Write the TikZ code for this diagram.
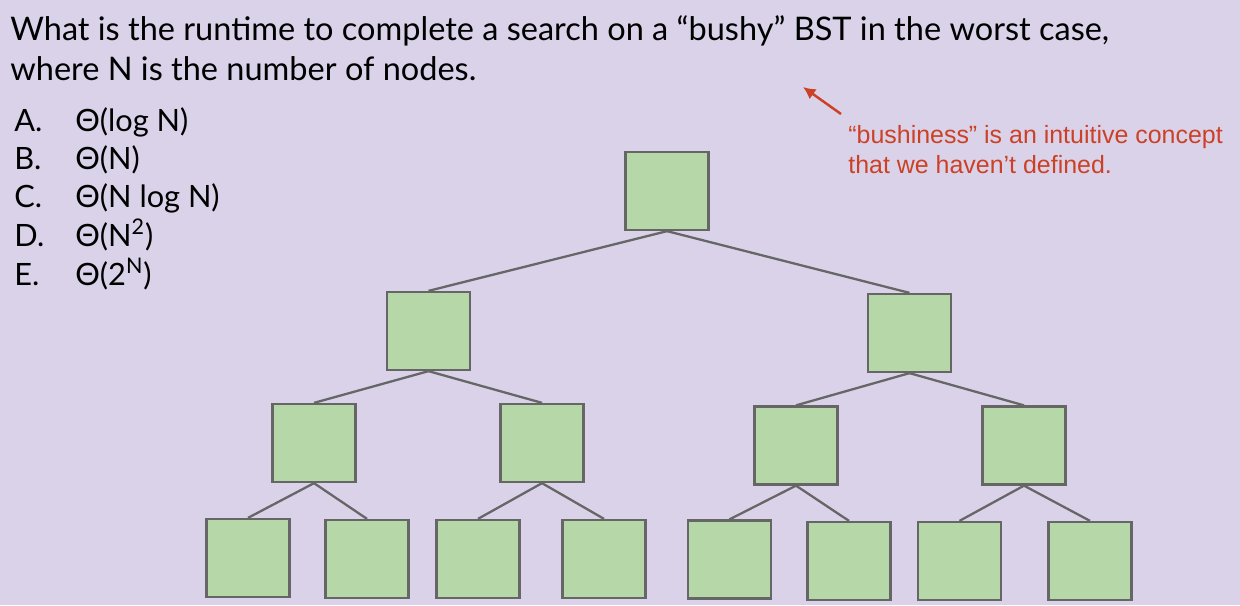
\documentclass[tikz,border=0pt]{standalone}
\usepackage{fontspec}
\setmainfont{Lato}
\newfontfamily\notefont{Liberation Sans}
\usetikzlibrary{arrows.meta}
\definecolor{bgpurple}{HTML}{D9D2E9}
\definecolor{leafgreen}{HTML}{B6D7A8}
\definecolor{edgegray}{HTML}{666666}
\definecolor{notered}{HTML}{CC4125}

\begin{document}
\begin{tikzpicture}[x=.02cm,y=-.02cm,>={Latex[length=7pt,width=7pt]},
    bst/.style={draw=edgegray,fill=leafgreen,line width=1.3pt,inner sep=0,minimum width=1.66cm,minimum height=1.56cm},
    link/.style={draw=edgegray,line width=1.3pt},
    qtext/.style={anchor=base west,inner sep=0,font=\fontsize{18.5}{22}\selectfont},
    notetext/.style={anchor=base west,inner sep=0,text=notered,font=\notefont\fontsize{14.2}{16}\selectfont}]
    \fill[bgpurple](0,0)rectangle(1240,605);
    \useasboundingbox(0,0)rectangle(1240,605);
    % question
    \node[qtext](q1)at(10,40){What is the runtime to complete a search on a “bushy” BST in the worst case,};
    \node[qtext](q2)at(10,80){where N is the number of nodes.};
    \foreach \lab/\ans/\yy in {A/Θ(log N)/131,B/Θ(N)/169,C/Θ(N log N)/207,D/Θ(N\textsuperscript{2})/246,E/Θ(2\textsuperscript{N})/285}{
        \node[qtext,font=\fontsize{17.5}{21}\selectfont](opt\lab)at(14,\yy){\lab.};
        \node[qtext,font=\fontsize{17.5}{21}\selectfont](ans\lab)at(75,\yy){\ans};
    }
    % tree
    \node[bst](r)at(667,191){};
    \node[bst](l)at(428.5,331){};
    \node[bst](rr)at(909.5,333){};
    \node[bst](ll)at(314,443){};
    \node[bst](lr)at(542,443){};
    \node[bst](rl)at(796,445.5){};
    \node[bst](rrr)at(1024,445.5){};
    \node[bst](lll)at(248,558){};
    \node[bst](llr)at(367,559){};
    \node[bst](lrl)at(478,559){};
    \node[bst](lrr)at(604,559){};
    \node[bst](rll)at(729.5,559.5){};
    \node[bst](rlr)at(849,561){};
    \node[bst](rrl)at(959.5,561){};
    \node[bst](rrrr)at(1090,561){};
    \foreach \p/\c in {r/l,r/rr,l/ll,l/lr,rr/rl,rr/rrr,ll/lll,ll/llr,lr/lrl,lr/lrr,rl/rll,rl/rlr,rrr/rrl,rrr/rrrr}
        \draw[link](\p.south)--(\c.north);
    % note
    \node[notetext](n1)at(848,143){“bushiness” is an intuitive concept};
    \node[notetext](n2)at(848,173){that we haven’t defined.};
    \coordinate(tail)at(841,114);
    \coordinate(tip)at(803,87);
    \draw[->,notered,line width=1.4pt](tail)--(tip);
\end{tikzpicture}
\end{document}
